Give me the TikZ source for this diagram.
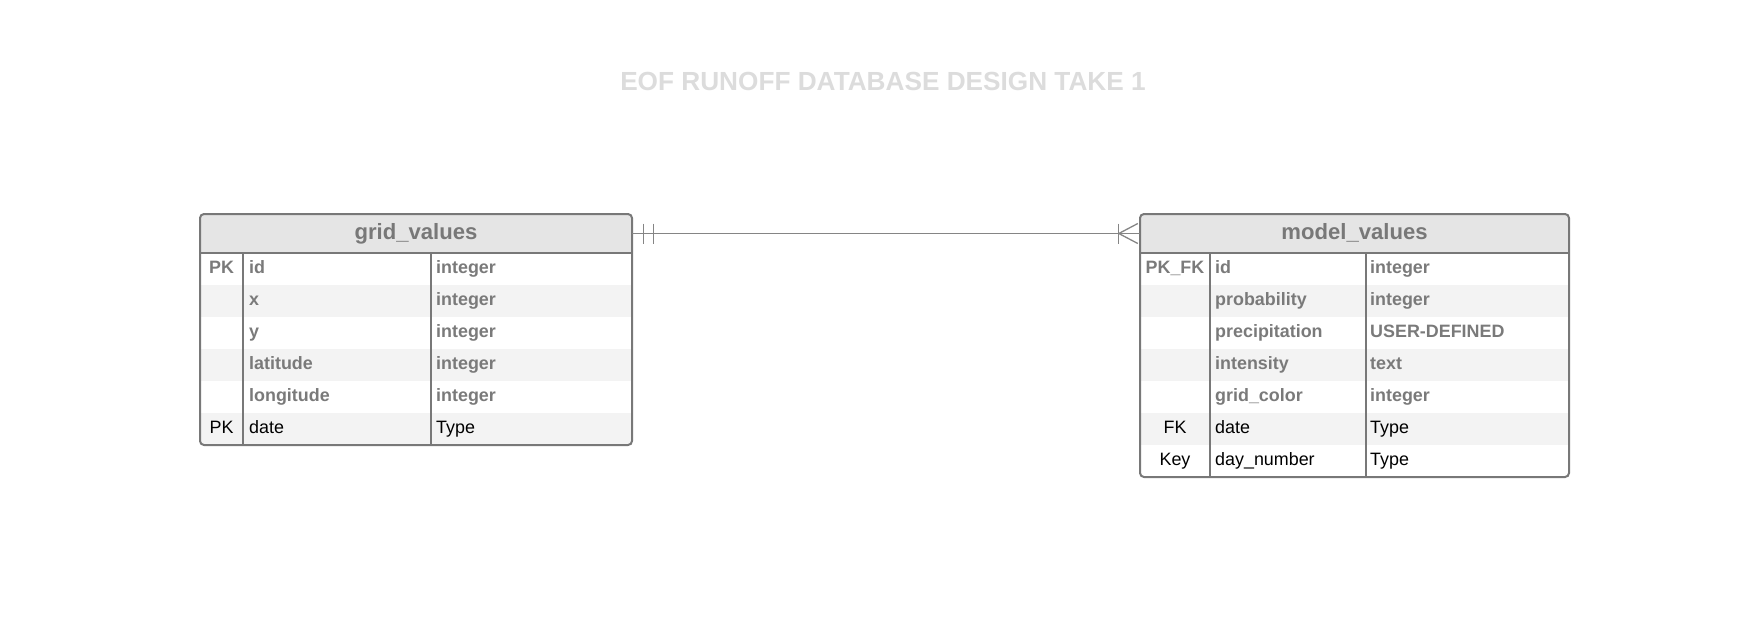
\documentclass[tikz,border=0pt]{standalone}
\usepackage{fontspec}
\setmainfont{Liberation Sans}
\usetikzlibrary{calc}
\definecolor{framegray}{HTML}{787878}
\definecolor{headfill}{HTML}{E5E5E5}
\definecolor{rowfill}{HTML}{F3F3F3}
\definecolor{fieldgray}{HTML}{7A7A7A}
\definecolor{linegray}{HTML}{858585}
\definecolor{titlegray}{HTML}{DCDCDC}
\tikzset{tblhead/.style = {font = \fontsize{22.1}{24}\selectfont\bfseries, text = framegray, inner sep = 0, text height = 16, text depth = 4}}
\tikzset{fld/.style = {font = \fontsize{17.9}{20}\selectfont\bfseries, text = fieldgray, anchor = base west, inner sep = 0}}
\tikzset{fldplain/.style = {font = \fontsize{17.9}{20}\selectfont, text = black, anchor = base west, inner sep = 0}}
\tikzset{keyfld/.style = {fld, anchor = base}}
\tikzset{keyplain/.style = {fldplain, anchor = base}}
\tikzset{tblframe/.style = {draw = framegray, line width = 2, rounded corners = 4}}
\tikzset{divider/.style = {draw = framegray, line width = 1.8}}
\tikzset{conn/.style = {draw = linegray, line width = 1.3}}
\tikzset{titletext/.style = {font = \fontsize{26.2}{30}\selectfont\bfseries, text = titlegray}}

\begin{document}
\begin{tikzpicture}[x = 1pt, y = -1pt]
          \useasboundingbox (0, 0) rectangle (1760, 625);
          \node (title) at (883, 81.5) [titletext] {EOF RUNOFF DATABASE DESIGN TAKE 1};

          % grid_values
          \begin{scope}
            \clip [rounded corners = 4] (200, 214) rectangle (632, 445);
            \fill [headfill] (200, 214) rectangle (632, 253);
            \foreach \r in {1, 3, 5}
              \fill [rowfill] (200, 253 + 32*\r) rectangle (632, 285 + 32*\r);
          \end{scope}
          \draw [divider] (200, 253) -- (632, 253);
          \draw [divider] (243, 253) -- (243, 445);
          \draw [divider] (431, 253) -- (431, 445);
          \draw [tblframe] (200, 214) rectangle (632, 445);
          \node (gridhead) at (416, 233.5) [tblhead, minimum width = 432, minimum height = 39] {grid\_values};
          \node (gk0) at (221.5, 273.5) [keyfld] {PK};
          \node (gn0) at (249, 273.5) [fld] {id};
          \node (gt0) at (436, 273.5) [fld] {integer};
          \node (gn1) at (249, 305.5) [fld] {x};
          \node (gt1) at (436, 305.5) [fld] {integer};
          \node (gn2) at (249, 337.5) [fld] {y};
          \node (gt2) at (436, 337.5) [fld] {integer};
          \node (gn3) at (249, 369.5) [fld] {latitude};
          \node (gt3) at (436, 369.5) [fld] {integer};
          \node (gn4) at (249, 401.5) [fld] {longitude};
          \node (gt4) at (436, 401.5) [fld] {integer};
          \node (gk5) at (221.5, 433.5) [keyplain] {PK};
          \node (gn5) at (249, 433.5) [fldplain] {date};
          \node (gt5) at (436, 433.5) [fldplain] {Type};

          % model_values
          \begin{scope}
            \clip [rounded corners = 4] (1140, 214) rectangle (1569, 477);
            \fill [headfill] (1140, 214) rectangle (1569, 253);
            \foreach \r in {1, 3, 5}
              \fill [rowfill] (1140, 253 + 32*\r) rectangle (1569, 285 + 32*\r);
          \end{scope}
          \draw [divider] (1140, 253) -- (1569, 253);
          \draw [divider] (1210, 253) -- (1210, 477);
          \draw [divider] (1366, 253) -- (1366, 477);
          \draw [tblframe] (1140, 214) rectangle (1569, 477);
          \node (modelhead) at (1354.5, 233.5) [tblhead, minimum width = 429, minimum height = 39] {model\_values};
          \node (mk0) at (1175, 273.5) [keyfld] {PK\_FK};
          \node (mn0) at (1215, 273.5) [fld] {id};
          \node (mt0) at (1370, 273.5) [fld] {integer};
          \node (mn1) at (1215, 305.5) [fld] {probability};
          \node (mt1) at (1370, 305.5) [fld] {integer};
          \node (mn2) at (1215, 337.5) [fld] {precipitation};
          \node (mt2) at (1370, 337.5) [fld] {USER-DEFINED};
          \node (mn3) at (1215, 369.5) [fld] {intensity};
          \node (mt3) at (1370, 369.5) [fld] {text};
          \node (mn4) at (1215, 401.5) [fld] {grid\_color};
          \node (mt4) at (1370, 401.5) [fld] {integer};
          \node (mk5) at (1175, 433.5) [keyplain] {FK};
          \node (mn5) at (1215, 433.5) [fldplain] {date};
          \node (mt5) at (1370, 433.5) [fldplain] {Type};
          \node (mk6) at (1175, 465.5) [keyplain] {Key};
          \node (mn6) at (1215, 465.5) [fldplain] {day\_number};
          \node (mt6) at (1370, 465.5) [fldplain] {Type};

          % one to many
          \draw [conn] (gridhead.east) -- (modelhead.west);
          \draw [conn] ([xshift = 11]gridhead.east) ++(0, -10) -- ++(0, 20);
          \draw [conn] ([xshift = 21]gridhead.east) ++(0, -10) -- ++(0, 20);
          \draw [conn] ([xshift = -21]modelhead.west) ++(0, -10) -- ++(0, 20);
          \draw [conn] ([xshift = -2]modelhead.west) ++(0, -10) -- ([xshift = -21]modelhead.west) -- ++(19, 10);
        \end{tikzpicture}
\end{document}
